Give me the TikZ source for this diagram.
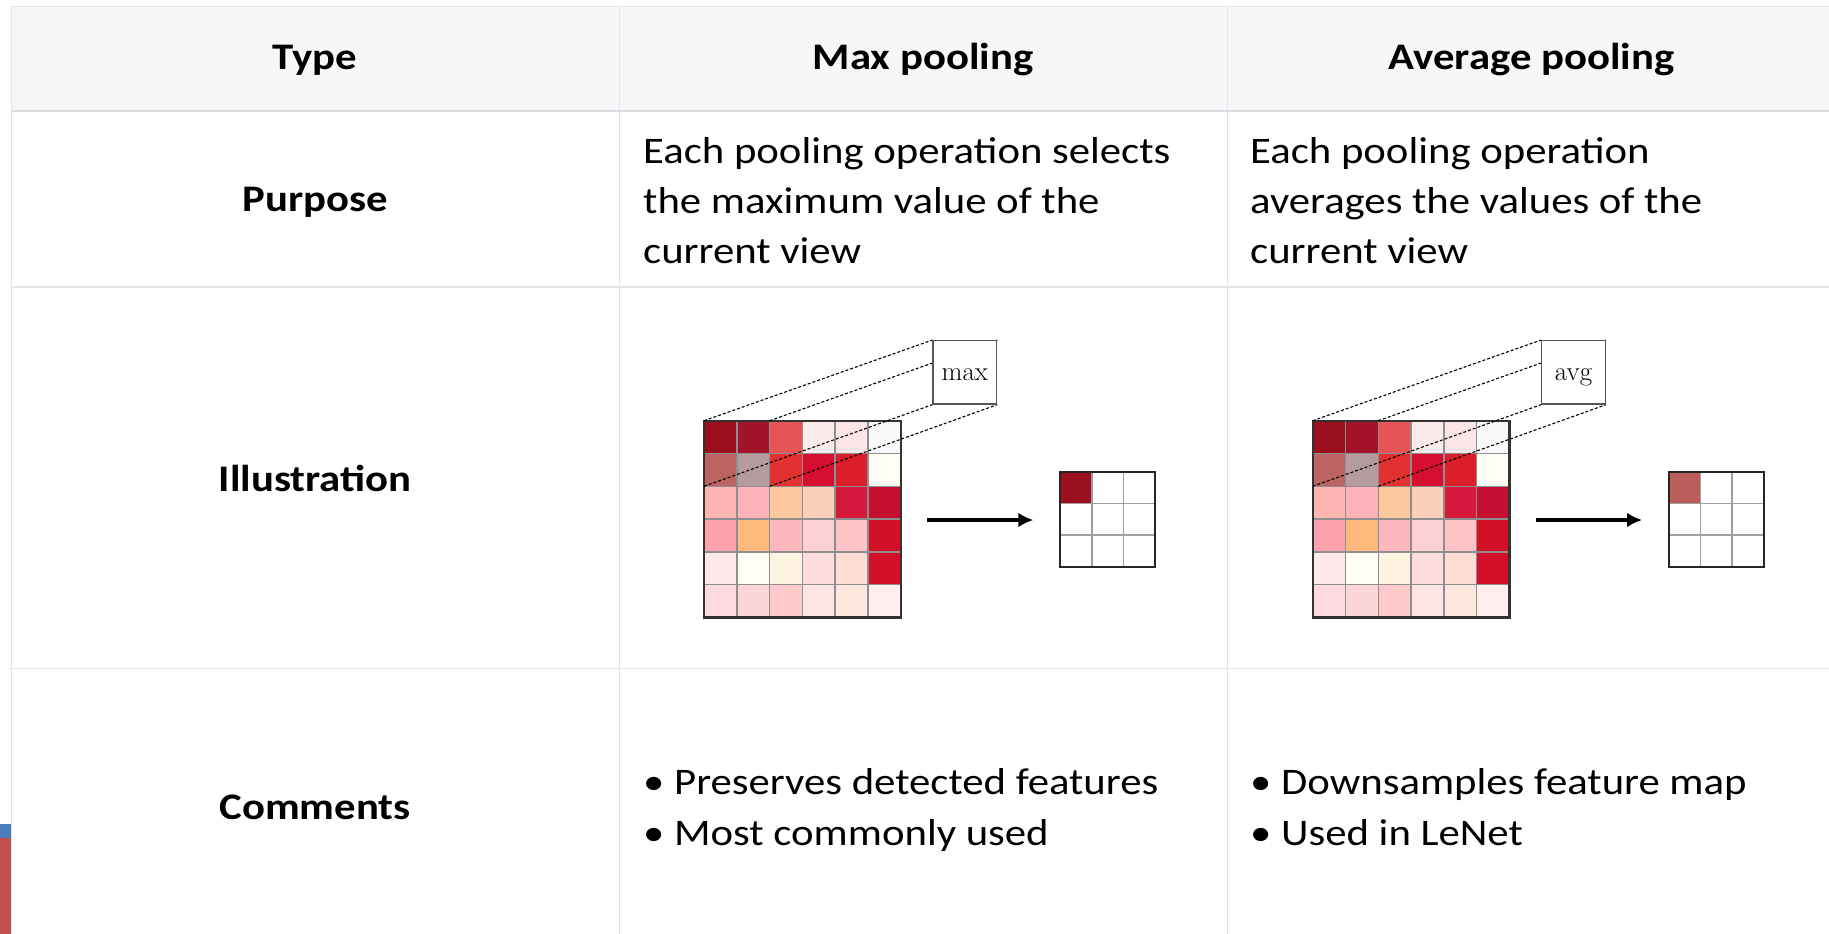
\documentclass[tikz,border=0pt]{standalone}
\usepackage{fontspec}
\newfontfamily\tabfont{Carlito}[FakeStretch=1.14]
\usetikzlibrary{arrows.meta}
\pgfdeclarelayer{cells}
\pgfdeclarelayer{rays}
\pgfsetlayers{cells,rays,main}

\definecolor{rulegray}{HTML}{E2E4E7}
\definecolor{headrule}{HTML}{DADDE0}
\definecolor{headfill}{HTML}{F6F7F9}
\definecolor{gridgray}{HTML}{8E8E8E}
\definecolor{framedark}{HTML}{333333}
\definecolor{boxgray}{HTML}{555555}
\definecolor{stripblue}{HTML}{4A7EBF}
\definecolor{stripred}{HTML}{C0504D}

\tikzset{
  rule/.style={draw=rulegray, line width=1.6pt},
  txt/.style={font=\tabfont\fontsize{37.5}{50}\selectfont, inner sep=0pt, anchor=base west},
  hd/.style={font=\tabfont\bfseries\fontsize{37.5}{50}\selectfont, inner sep=0pt, anchor=base},
  gridline/.style={draw=gridgray, line width=1.5pt},
  gridframe/.style={draw=framedark, line width=2.2pt},
  ray/.style={draw=black, line width=1.1pt, dash pattern=on 3pt off 2pt},
  opbox/.style={draw=boxgray, fill=white, line width=1.3pt, minimum width=63.7pt,
    minimum height=63.3pt, inner sep=0pt},
  oplabel/.style={font=\fontsize{27}{32}\selectfont, inner sep=0pt, anchor=base},
  poolarrow/.style={draw=black, line width=4.5pt, -{Latex[length=15pt,width=15pt]}},
}

\begin{document}
\begin{tikzpicture}[x=1pt, y=-1pt]
\useasboundingbox (0,0) rectangle (1829,934);

% side strip at the lower left
\fill[stripblue] (0,824) rectangle (10.8,838);
\fill[stripred] (0,838) rectangle (10.8,934);

% header band and table rules
\fill[headfill] (11.5,6.5) rectangle (1840,111);
\draw[rule] (11.5,6.5) -- (1840,6.5);
\draw[rule] (11.5,287) -- (1840,287);
\draw[rule] (11.5,668.5) -- (1840,668.5);
\draw[rule] (11.5,6.5) -- (11.5,940);
\draw[rule] (619.5,6.5) -- (619.5,940);
\draw[rule] (1227.5,6.5) -- (1227.5,940);
\draw[draw=headrule, line width=2.4pt] (11.5,111) -- (1840,111);

% header texts
\node[hd] (hType) at (315,69.3) {Type};
\node[hd] (hMax) at (923,69.3) {Max pooling};
\node[hd] (hAvg) at (1531.5,69.3) {Average pooling};

% row labels
\node[hd] (lPurpose) at (315,211.7) {Purpose};
\node[hd] (lIllus) at (315,491) {Illustration};
\node[hd] (lComm) at (315,819) {Comments};

% purpose texts
\node[txt] (pm1) at (643,163.3) {Each pooling operation selects};
\node[txt] (pm2) at (643,213.3) {the maximum value of the};
\node[txt] (pm3) at (643,263.3) {current view};
\node[txt] (pa1) at (1250,163.3) {Each pooling operation};
\node[txt] (pa2) at (1250,213.3) {averages the values of the};
\node[txt] (pa3) at (1250,263.3) {current view};

% comments
\node[txt] (cm1) at (643,794.3) {\textbullet\ Preserves detected features};
\node[txt] (cm2) at (643,845) {\textbullet\ Most commonly used};
\node[txt] (ca1) at (1250,794.3) {\textbullet\ Downsamples feature map};
\node[txt] (ca2) at (1250,845) {\textbullet\ Used in LeNet};

% pooling illustrations: input map, pooling window, output map
\foreach \dx/\lab/\pfx/\oc in {0/max/mx/9B0F1E, 608.7/avg/av/BC5E5C}{
\begin{scope}[xshift=\dx, name prefix=\pfx-]
  \begin{pgfonlayer}{cells}
    \foreach \row [count=\j from 0] in {
      {9B0F1E,A3132A,E55555,FDEBEC,FCE5E8,F9F9F9},
      {BC6462,B69B9E,E33030,D60F30,DC1D2A,FFFEF4},
      {FDB5B2,FDB1B8,FDC89E,FDD0BA,D7193D,C60F31},
      {FCA2AC,FDB87E,FDB7BE,FDD1D4,FDC3C6,D21026},
      {FEE8EA,FFFEF4,FEF3E0,FEDEDC,FEDDD4,D40F2A},
      {FDDAE2,FDD7D8,FDCACB,FEE5E3,FEE6DE,FEEEEE}}{
      \foreach \c [count=\i from 0] in \row {
        \definecolor{cellc}{HTML}{\c}
        \fill[cellc] (704+32.8*\i,420.7+32.8*\j) rectangle ++(32.8,32.8);
      }
    }
    \foreach \k in {1,...,5}{
      \draw[gridline] (704+32.8*\k,420.7) -- ++(0,196.8);
      \draw[gridline] (704,420.7+32.8*\k) -- ++(196.8,0);
    }
    \draw[gridframe] (704,420.7) rectangle (900.8,617.5);

    % output map
    \definecolor{outc}{HTML}{\oc}
    \fill[outc] (1060.3,472) rectangle ++(31.6,31.6);
    \foreach \k in {1,2}{
      \draw[gridline, draw=gridgray!85] (1060.3+31.6*\k,472) -- ++(0,94.8);
      \draw[gridline, draw=gridgray!85] (1060.3,472+31.6*\k) -- ++(94.8,0);
    }
    \draw[gridframe, draw=black!85] (1060.3,472) rectangle ++(94.8,94.8);
  \end{pgfonlayer}

  % pooling window corners
  \coordinate (wtl) at (704,420.7);
  \coordinate (wtr) at (769.6,420.7);
  \coordinate (wbl) at (704,486.3);
  \coordinate (wbr) at (769.6,486.3);

  % operator box
  \node[opbox] (op) at (964.85,372.35) {};
  \node[oplabel] (oplab) at (964.85,380) {\lab};

  \begin{pgfonlayer}{rays}
    \draw[ray] (wtl) -- (op.north west);
    \draw[ray] (wtr) -- (op.north east);
    \draw[ray] (wbl) -- (op.south west);
    \draw[ray] (wbr) -- (op.south east);
  \end{pgfonlayer}

  % arrow to the output map
  \node[minimum size=94.8pt, inner sep=0pt] (out) at (1107.7,519.4) {};
  \coordinate (arrs) at (927,520);
  \draw[poolarrow, shorten >=26.8pt] (arrs) -- (out.west |- arrs);
\end{scope}
}
\end{tikzpicture}
\end{document}
